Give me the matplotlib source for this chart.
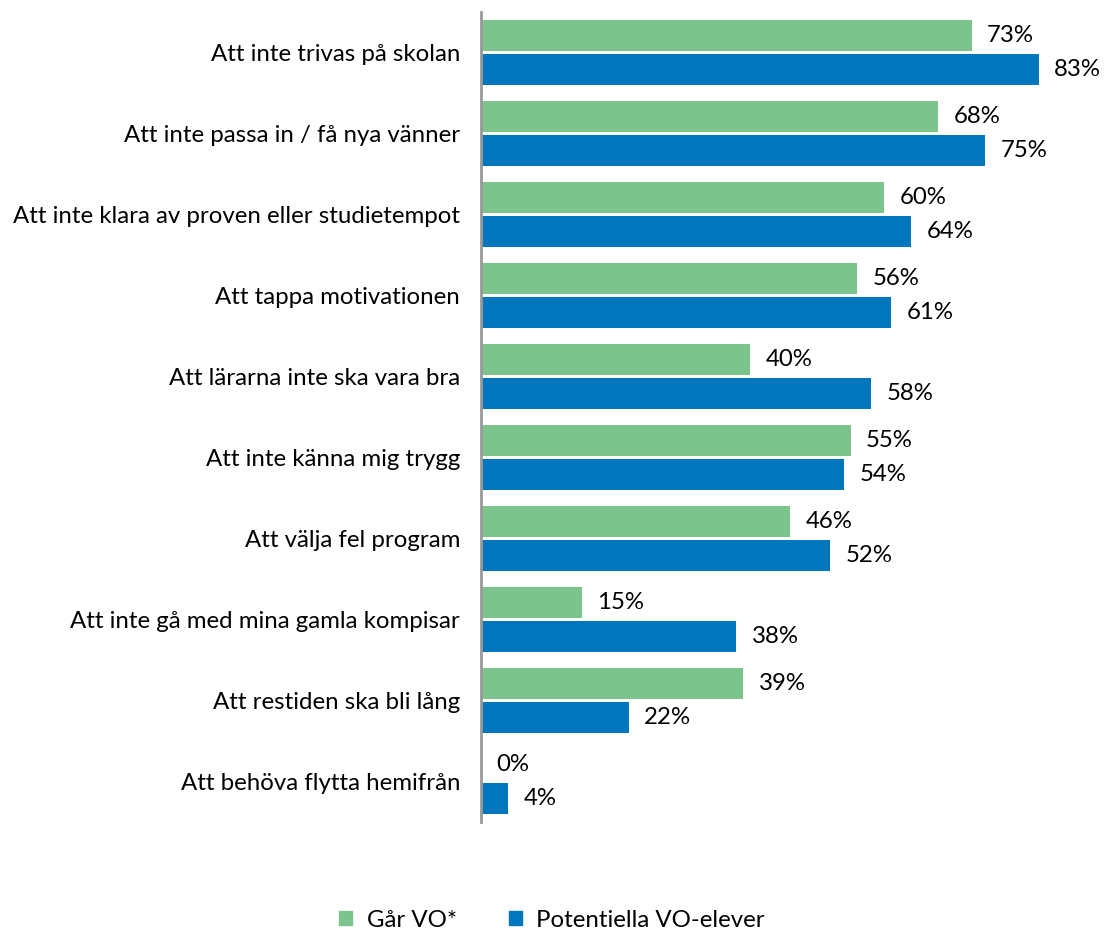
import numpy as np
import matplotlib.pyplot as plt
from matplotlib.patches import Patch

plt.rcParams['font.family'] = ['Lato', 'DejaVu Sans']

kategorier = [
    "Att inte trivas på skolan",
    "Att inte passa in / få nya vänner",
    "Att inte klara av proven eller studietempot",
    "Att tappa motivationen",
    "Att lärarna inte ska vara bra",
    "Att inte känna mig trygg",
    "Att välja fel program",
    "Att inte gå med mina gamla kompisar",
    "Att restiden ska bli lång",
    "Att behöva flytta hemifrån",
]
gar_vo = [73, 68, 60, 56, 40, 55, 46, 15, 39, 0]
potentiella = [83, 75, 64, 61, 58, 54, 52, 38, 22, 4]

gron = '#7CC48C'
bla = '#0077BD'
fs = 17.3

fig = plt.figure(figsize=(11.06, 9.30), dpi=100)
ax = fig.add_axes([481 / 1106, 1 - 822 / 930, 625 / 1106, 810 / 930])

y = np.arange(len(kategorier))
h = 0.38
off = 0.21

ax.barh(y - off, gar_vo, height=h, color=gron)
ax.barh(y + off, potentiella, height=h, color=bla)

for i in range(len(kategorier)):
    ax.text(gar_vo[i] + 2.3, y[i] - off, f"{gar_vo[i]}%", va='center', ha='left', fontsize=fs)
    ax.text(potentiella[i] + 2.3, y[i] + off, f"{potentiella[i]}%", va='center', ha='left', fontsize=fs)

ax.set_xlim(0, 93)
ax.set_ylim(len(kategorier) - 0.5, -0.5)
ax.set_yticks(y)
ax.set_yticklabels(kategorier, fontsize=fs)
ax.tick_params(axis='y', length=0, pad=15)
ax.set_xticks([])
for s in ['top', 'right', 'bottom']:
    ax.spines[s].set_visible(False)
ax.spines['left'].set_color('#999999')
ax.spines['left'].set_linewidth(2)

handles = [Patch(color=gron, label='Går VO*'), Patch(color=bla, label='Potentiella VO-elever')]
fig.legend(handles=handles, loc='center', bbox_to_anchor=(552 / 1106, 1 - 920 / 930),
           ncol=2, frameon=False, fontsize=fs, handlelength=0.54, handleheight=0.54,
           columnspacing=2.15, handletextpad=0.62)

fig.savefig('out.png', dpi=100)
